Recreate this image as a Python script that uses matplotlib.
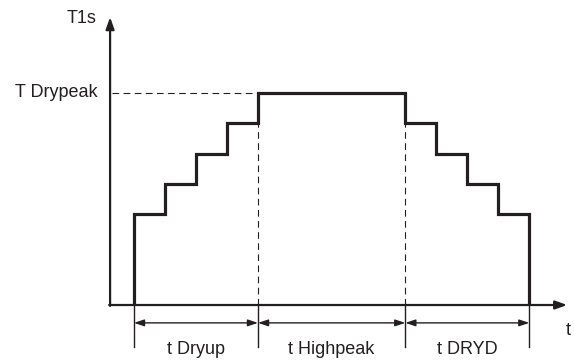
import numpy as np
import matplotlib.pyplot as plt

plt.rcParams['font.family'] = ['Liberation Sans', 'DejaVu Sans']

# phase boundaries (time units) and temperature levels
dryup_times = [0, 1, 2, 3, 4]
dryup_levels = [3, 4, 5, 6]
peak_level = 7
peak_end = 8.75
dryd_times = [8.75, 9.75, 10.75, 11.75, 12.75]
dryd_levels = [6, 5, 4, 3]
phase_labels = ['t Dryup', 't Highpeak', 't DRYD']
ink = '#231f20'

# build the staircase path
xs = [dryup_times[0]]
ys = [0]
for i, lev in enumerate(dryup_levels):
    xs += [dryup_times[i], dryup_times[i + 1]]
    ys += [lev, lev]
xs += [dryup_times[-1], peak_end]
ys += [peak_level, peak_level]
for i, lev in enumerate(dryd_levels):
    xs += [dryd_times[i], dryd_times[i + 1]]
    ys += [lev, lev]
xs += [dryd_times[-1]]
ys += [0]

fig = plt.figure(figsize=(5.74, 3.63), dpi=100)
ax = fig.add_axes([0, 0, 1, 1])
ax.set_xlim(-4.32, 14.19)
ax.set_ylim(-1.914, 10.066)
ax.axis('off')

x0 = -0.77  # y axis position
# axes with arrows
ax.annotate('', xy=(x0, 9.5), xytext=(x0, -0.03),
            arrowprops=dict(arrowstyle='-|>,head_length=0.7,head_width=0.25',
                            lw=1.6, color=ink, shrinkA=0, shrinkB=0))
ax.annotate('', xy=(13.97, 0), xytext=(x0 - 0.03, 0),
            arrowprops=dict(arrowstyle='-|>,head_length=0.7,head_width=0.25',
                            lw=1.6, color=ink, shrinkA=0, shrinkB=0))

# staircase
ax.plot(xs, ys, color=ink, lw=2.3, solid_joinstyle='miter', solid_capstyle='butt')

# dashed guides
dash = dict(color=ink, lw=0.8, ls=(0, (6, 4)))
ax.plot([x0 + 0.05, dryup_times[-1]], [peak_level, peak_level], **dash)
ax.plot([dryup_times[-1], dryup_times[-1]], [0, dryup_levels[-1]], **dash)
ax.plot([peak_end, peak_end], [0, dryd_levels[0]], **dash)

# dimension ticks and arrows
bounds = [dryup_times[0], dryup_times[-1], peak_end, dryd_times[-1]]
for b in bounds:
    ax.plot([b, b], [0, -1.39], color=ink, lw=1.0)
for i, lab in enumerate(phase_labels):
    a, b = bounds[i], bounds[i + 1]
    ax.annotate('', xy=(b, -0.59), xytext=(a, -0.59),
                arrowprops=dict(arrowstyle='<|-|>,head_length=0.6,head_width=0.2',
                                lw=1.0, color=ink, shrinkA=0, shrinkB=0))
    ax.text((a + b) / 2, -1.47, lab, ha='center', va='center', fontsize=13, color=ink)

# axis labels
ax.text(-1.17, peak_level, 'T Drypeak', ha='right', va='center', fontsize=13, color=ink)
ax.text(-1.2, 9.47, 'T1s', ha='right', va='center', fontsize=13, color=ink)
ax.text(14.0, -0.83, 't', ha='center', va='center', fontsize=13, color=ink)

fig.savefig('out.png', dpi=100)
